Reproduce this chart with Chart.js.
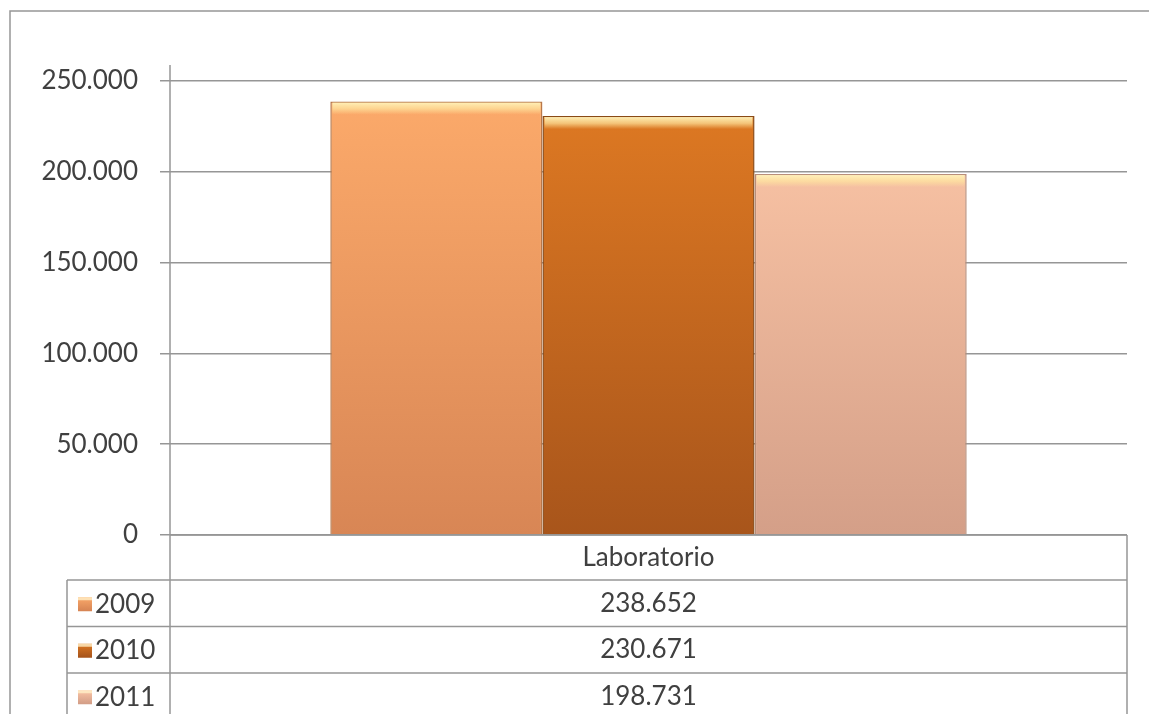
<!DOCTYPE html>
<html>
<head>
<meta charset="utf-8">
<script src="https://cdn.jsdelivr.net/npm/chart.js@4"></script>
<style>
  html, body { margin: 0; padding: 0; background: #fff; }
  #wrap { width: 1149px; height: 714px; position: relative; }
</style>
</head>
<body>
<div id="wrap"><canvas id="myChart" width="1149" height="714"></canvas></div>
<script>
const categories = ['Laboratorio'];
const years = ['2009', '2010', '2011'];
const values2009 = [238652];
const values2010 = [230671];
const values2011 = [198731];
const yTicks = [0, 50000, 100000, 150000, 200000, 250000];

const FONT = 'Lato, "Noto Sans", sans-serif';
const TEXT = '#404040';
const LINE = '#969696';

// top/bottom colours of each series
const fills = [
    ['#fdab6b', '#d88655'],
    ['#e17b23', '#a8551b'],
    ['#ffc9a9', '#d49f88']
];
const edges = ['#b8784a', '#8a4a16', '#b88e7a'];

const fmt = v => v.toLocaleString('de-DE');

const gradFor = (i) => (ctx) => {
    const area = ctx.chart.chartArea;
    if (!area) return fills[i][0];
    const g = ctx.chart.ctx.createLinearGradient(0, area.top, 0, area.bottom);
    g.addColorStop(0, fills[i][0]);
    g.addColorStop(1, fills[i][1]);
    return g;
};

const tablePlugin = {
    id: 'dataTable',
    afterDatasetsDraw(chart) {
        const c = chart.ctx;
        // bevel highlight on top of bars
        chart.data.datasets.forEach((ds, i) => {
            chart.getDatasetMeta(i).data.forEach(bar => {
                const w = bar.width, x = bar.x - w / 2, y = bar.y;
                const g = c.createLinearGradient(0, y, 0, y + 13);
                g.addColorStop(0, 'rgba(255,244,190,1)');
                g.addColorStop(0.55, 'rgba(255,230,160,0.7)');
                g.addColorStop(1, 'rgba(255,230,160,0)');
                c.save();
                c.fillStyle = g;
                c.fillRect(x + 2, y + 1, w - 4, 13);
                c.restore();
            });
        });
    },
    afterDraw(chart) {
        const c = chart.ctx;
        const a = chart.chartArea;
        const xs = chart.scales.x;
        const left = a.left, right = a.right, top = a.bottom;
        const headH = 45, rowH = 46.5, tableLeft = 67;

        c.save();
        c.strokeStyle = LINE;
        c.lineWidth = 1.5;

        // outer frame
        c.beginPath();
        c.moveTo(10, 714);
        c.lineTo(10, 11);
        c.lineTo(1149, 11);
        c.stroke();

        // value axis line
        c.beginPath();
        c.moveTo(left, 65);
        c.lineTo(left, 714);
        c.stroke();

        // table lines
        c.beginPath();
        c.moveTo(left, top);
        c.lineTo(right, top);
        c.moveTo(right, top);
        c.lineTo(right, 714);
        c.moveTo(tableLeft, top + headH);
        c.lineTo(tableLeft, 714);
        for (let r = 0; r < years.length; r++) {
            const y = top + headH + r * rowH;
            c.moveTo(tableLeft, y);
            c.lineTo(right, y);
        }
        c.stroke();

        // texts
        c.fillStyle = TEXT;
        c.font = '26px ' + FONT;
        c.textBaseline = 'middle';
        c.textAlign = 'center';
        categories.forEach((cat, i) => {
            const cx = xs.getPixelForValue(i);
            c.fillText(cat, cx, top + headH / 2);
            chart.data.datasets.forEach((ds, j) => {
                c.fillText(fmt(ds.data[i]), cx, top + headH + j * rowH + rowH / 2);
            });
        });

        // legend keys
        c.textAlign = 'left';
        chart.data.datasets.forEach((ds, j) => {
            const cy = top + headH + j * rowH + rowH / 2;
            const g = c.createLinearGradient(0, cy - 7, 0, cy + 7);
            g.addColorStop(0, fills[j][0]);
            g.addColorStop(1, fills[j][1]);
            c.fillStyle = g;
            c.fillRect(78, cy - 6, 14, 14);
            c.fillStyle = 'rgba(255,240,200,0.8)';
            c.fillRect(78, cy - 6, 14, 3);
            c.fillStyle = TEXT;
            c.fillText(ds.label, 95, cy + 1);
        });
        c.restore();
    }
};

const ctx = document.getElementById('myChart').getContext('2d');
const myChart = new Chart(ctx, {
    type: 'bar',
    data: {
        labels: categories,
        datasets: [
            { label: years[0], data: values2009, backgroundColor: gradFor(0), borderColor: edges[0], borderWidth: 1.5 },
            { label: years[1], data: values2010, backgroundColor: gradFor(1), borderColor: edges[1], borderWidth: 1.5 },
            { label: years[2], data: values2011, backgroundColor: gradFor(2), borderColor: edges[2], borderWidth: 1.5 }
        ]
    },
    options: {
        responsive: false,
        animation: false,
        devicePixelRatio: 1,
        layout: { padding: { top: 81, right: 22, bottom: 179, left: 0 } },
        datasets: { bar: { categoryPercentage: 0.665, barPercentage: 1.0 } },
        scales: {
            x: { display: false },
            y: {
                min: 0,
                max: 250000,
                afterFit: (scale) => { scale.width = 170; },
                afterBuildTicks: (scale) => { scale.ticks = yTicks.map(v => ({ value: v })); },
                border: { display: false },
                grid: { color: LINE, lineWidth: 1.5, tickLength: 10 },
                ticks: {
                    padding: 22,
                    color: TEXT,
                    font: { family: FONT, size: 26 },
                    callback: (v) => fmt(v)
                }
            }
        },
        plugins: {
            legend: { display: false },
            tooltip: { enabled: false }
        }
    },
    plugins: [tablePlugin]
});
</script>
</body>
</html>
